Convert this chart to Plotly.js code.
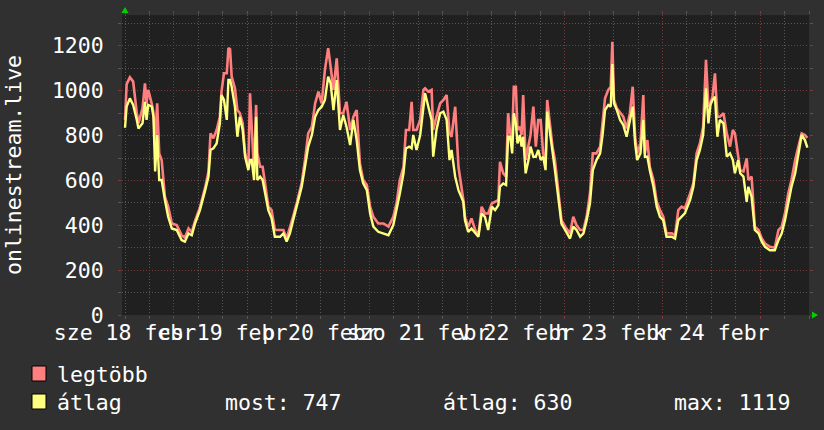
<!DOCTYPE html>
<html>
<head>
<meta charset="utf-8">
<script src="https://cdn.plot.ly/plotly-3.0.1.min.js"></script>
<style>html,body{margin:0;padding:0;background:#303030;}#chart{width:824px;height:430px;}</style>
</head>
<body>
<div id="chart"></div>
<script>
// hours since the start of the graph (sze 18 febr 00:00)
const hours = [0.0,0.4,1.2,2.0,2.9,3.3,4.3,4.9,5.3,5.7,6.6,7.0,7.4,7.9,8.4,9.0,9.8,10.6,11.5,12.7,13.9,14.7,15.6,16.4,17.2,18.4,19.7,20.5,21.0,21.7,22.5,23.3,23.7,24.3,25.0,25.4,25.8,26.2,27.0,27.6,28.2,28.9,29.5,30.3,30.7,31.1,31.7,32.2,32.5,33.2,33.8,34.4,35.2,36.0,36.8,38.1,38.9,39.7,40.5,41.3,42.2,43.4,44.2,45.0,45.9,46.7,47.5,48.3,49.1,49.9,50.5,51.2,52.0,52.8,53.6,54.4,55.3,56.1,56.9,57.7,58.5,59.4,60.2,61.0,62.2,63.5,64.7,65.9,66.7,67.5,68.4,69.0,69.8,70.4,70.8,71.6,72.5,73.3,73.7,74.5,75.3,75.7,76.5,77.4,78.2,79.0,79.7,80.2,81.1,81.9,83.1,83.5,84.3,85.1,86.0,86.8,87.6,88.4,89.2,90.1,90.9,91.7,92.1,92.9,93.6,94.1,94.6,95.1,95.5,96.0,96.4,97.0,97.4,97.8,98.4,99.1,99.6,100.3,100.9,101.5,102.1,102.7,103.3,103.7,104.4,105.0,105.6,106.4,107.2,108.1,109.3,110.1,110.9,111.8,112.6,113.4,114.2,114.9,115.8,116.7,117.3,117.9,118.7,119.3,119.7,120.1,120.8,121.6,122.4,123.2,124.0,124.7,125.3,125.8,126.6,127.3,127.7,128.3,128.9,129.8,130.6,131.4,132.2,133.0,134.3,135.1,135.9,136.7,137.5,138.8,139.6,140.4,141.2,142.0,142.7,143.3,143.8,144.3,144.9,145.5,146.1,147.0,147.8,148.6,149.3,149.8,150.6,151.1,151.9,152.7,153.1,153.9,154.7,155.6,156.4,157.2,158.4,159.6,160.5,161.3,162.1,162.9,163.7,164.6,165.4,166.2,167.0,167.6];

// "legtöbb" (maximum)
const legtobb = [870,1030,1060,1041,900,855,922,1033,944,1004,940,900,760,944,721,691,528,483,408,401,356,345,386,370,420,480,570,640,810,788,825,884,996,1078,1078,1190,1185,1063,1011,914,900,855,721,661,989,825,632,937,721,661,661,587,483,468,379,379,379,341,386,440,500,590,691,810,840,944,996,944,1093,1190,1108,1004,1145,900,900,951,825,884,914,676,602,580,483,438,408,408,394,438,498,602,661,825,825,951,825,825,870,1004,1011,996,1004,825,884,944,959,981,810,795,929,661,513,438,394,431,380,356,483,453,453,498,505,513,683,632,617,900,810,795,1018,1018,825,840,803,981,691,751,803,929,751,870,870,721,676,959,855,751,691,557,423,394,364,438,400,379,380,440,542,721,721,751,870,966,1004,1018,1219,959,922,900,884,832,900,1018,795,721,765,981,721,780,661,602,505,468,438,364,364,356,468,483,475,542,587,721,765,840,1138,929,944,974,1078,884,884,900,810,751,825,810,706,646,640,699,602,617,394,379,341,319,304,300,379,394,453,542,602,691,751,810,803,790];

// "átlag" (average)
const atlag = [835,930,966,937,870,832,855,951,870,937,929,880,640,803,602,602,513,438,386,379,334,327,364,356,408,468,557,617,736,743,765,855,981,959,870,1048,1048,1018,929,795,884,825,706,646,691,691,602,884,602,617,602,542,468,431,349,349,364,327,364,423,483,572,661,751,803,884,914,929,959,1063,1033,914,1048,825,892,840,758,870,780,646,587,557,453,394,371,364,356,401,468,542,632,743,751,743,803,736,803,929,989,929,870,706,825,900,907,870,691,736,617,557,505,423,371,386,364,349,453,438,379,483,468,490,572,587,580,795,795,721,900,855,765,803,751,795,632,691,751,706,706,736,691,706,646,907,810,736,646,527,408,379,341,394,379,349,364,423,498,646,691,721,803,914,937,929,1119,944,914,870,847,795,870,929,765,691,721,870,706,706,646,572,483,438,423,349,349,341,423,438,453,513,572,691,736,803,1011,855,937,959,974,795,870,855,706,721,691,632,691,632,617,505,572,527,379,364,327,304,289,289,334,364,423,498,572,632,721,803,780,747];

const dayTicks = [0, 24, 48, 72, 96, 120, 144];
const dayLabels = ["sze 18 febr", "cs 19 febr", "p 20 febr", "szo 21 febr", "v 22 febr", "h 23 febr", "k 24 febr"];
const yTitle = "onlinestream.live";
const legendNames = ["legtöbb", "átlag"];
const statLabels = ["most: 747", "átlag: 630", "max: 1119"];

const FONT = "DejaVu Sans Mono";
const FS = 21.5;
const RED = "#ff7f7f", YEL = "#ffff80";
const GRIDMAJ = "#7c3a3a", GRIDMIN = "#585858";
const DASH = "1px,2px";

const W = 824, Hh = 430;
const L = 122, R = 15, T = 15, B = 115;
const PW = W - L - R, PH = Hh - T - B;
const px = v => (v - L) / PW;
const py = v => (Hh - B - v) / PH;

const xRange = [-0.74, 168];

const traces = [
  {x: hours, y: legtobb, type: "scatter", mode: "lines", line: {color: RED, width: 2.6}, hoverinfo: "skip", name: legendNames[0]},
  {x: hours, y: atlag, type: "scatter", mode: "lines", line: {color: YEL, width: 2.4}, hoverinfo: "skip", name: legendNames[1]},
  {x: [0], y: [null], xaxis: "x2", type: "scatter", mode: "lines", hoverinfo: "skip", showlegend: false}
];

const shapes = [
  // arrows
  {type: "path", xref: "paper", yref: "paper", line: {width: 0}, fillcolor: "#00d000",
   path: `M ${px(125)},${py(7)} L ${px(121.5)},${py(13)} L ${px(128.5)},${py(13)} Z`},
  {type: "path", xref: "paper", yref: "paper", line: {width: 0}, fillcolor: "#00d000",
   path: `M ${px(818)},${py(315)} L ${px(812)},${py(311.5)} L ${px(812)},${py(318.5)} Z`},
  // legend boxes
  {type: "rect", xref: "paper", yref: "paper", x0: px(32), x1: px(46), y0: py(381), y1: py(366), fillcolor: RED, line: {color: "#000", width: 1}},
  {type: "rect", xref: "paper", yref: "paper", x0: px(32), x1: px(46), y0: py(409), y1: py(394), fillcolor: YEL, line: {color: "#000", width: 1}}
];

const txt = (s, x, y, extra) => Object.assign({text: s, xref: "paper", yref: "paper", x: px(x), y: py(y), xanchor: "left", yanchor: "middle", showarrow: false, font: {family: FONT, size: FS, color: "#ffffff"}}, extra || {});

const annotations = [
  txt(legendNames[0], 55, 374),
  txt(legendNames[1], 55, 402),
  txt(statLabels[0], 223, 402),
  txt(statLabels[1], 441, 402),
  txt(statLabels[2], 672, 402),
  txt(yTitle, 13, 165, {xanchor: "center", textangle: -90})
];

const layout = {
  width: W, height: Hh,
  margin: {l: L, r: R, t: T, b: B, pad: 0},
  paper_bgcolor: "#303030",
  plot_bgcolor: "#202020",
  showlegend: false,
  font: {family: FONT, size: FS, color: "#ffffff"},
  xaxis: {
    range: xRange, fixedrange: true,
    tick0: 12, dtick: 24, showticklabels: false,
    showgrid: true, gridcolor: GRIDMAJ, griddash: DASH, gridwidth: 1,
    ticks: "outside", ticklen: 3, tickcolor: GRIDMAJ, mirror: "allticks",
    zeroline: false, showline: false,
    minor: {tick0: 0, dtick: 6, showgrid: true, gridcolor: GRIDMIN, griddash: DASH, ticks: "outside", ticklen: 3, tickcolor: GRIDMIN}
  },
  xaxis2: {
    overlaying: "x", anchor: "y", side: "bottom", range: xRange, fixedrange: true,
    tickmode: "array", tickvals: dayTicks, ticktext: dayLabels, tickangle: 0,
    showgrid: false, zeroline: false, showline: false, ticks: "",
    tickfont: {family: FONT, size: FS, color: "#ffffff"}, ticklabelstandoff: 2
  },
  yaxis: {
    range: [0, 1338], fixedrange: true,
    tick0: 0, dtick: 200,
    showgrid: true, gridcolor: GRIDMAJ, griddash: DASH, gridwidth: 1,
    ticks: "outside", ticklen: 3, tickcolor: GRIDMAJ, mirror: "allticks",
    zeroline: false, showline: false,
    tickfont: {family: FONT, size: FS, color: "#ffffff"}, ticklabelstandoff: 10,
    minor: {dtick: 100, showgrid: true, gridcolor: GRIDMIN, griddash: DASH, ticks: "outside", ticklen: 3, tickcolor: GRIDMIN}
  },
  shapes: shapes,
  annotations: annotations
};

Plotly.newPlot("chart", traces, layout, {staticPlot: true, displayModeBar: false});
</script>
</body>
</html>
